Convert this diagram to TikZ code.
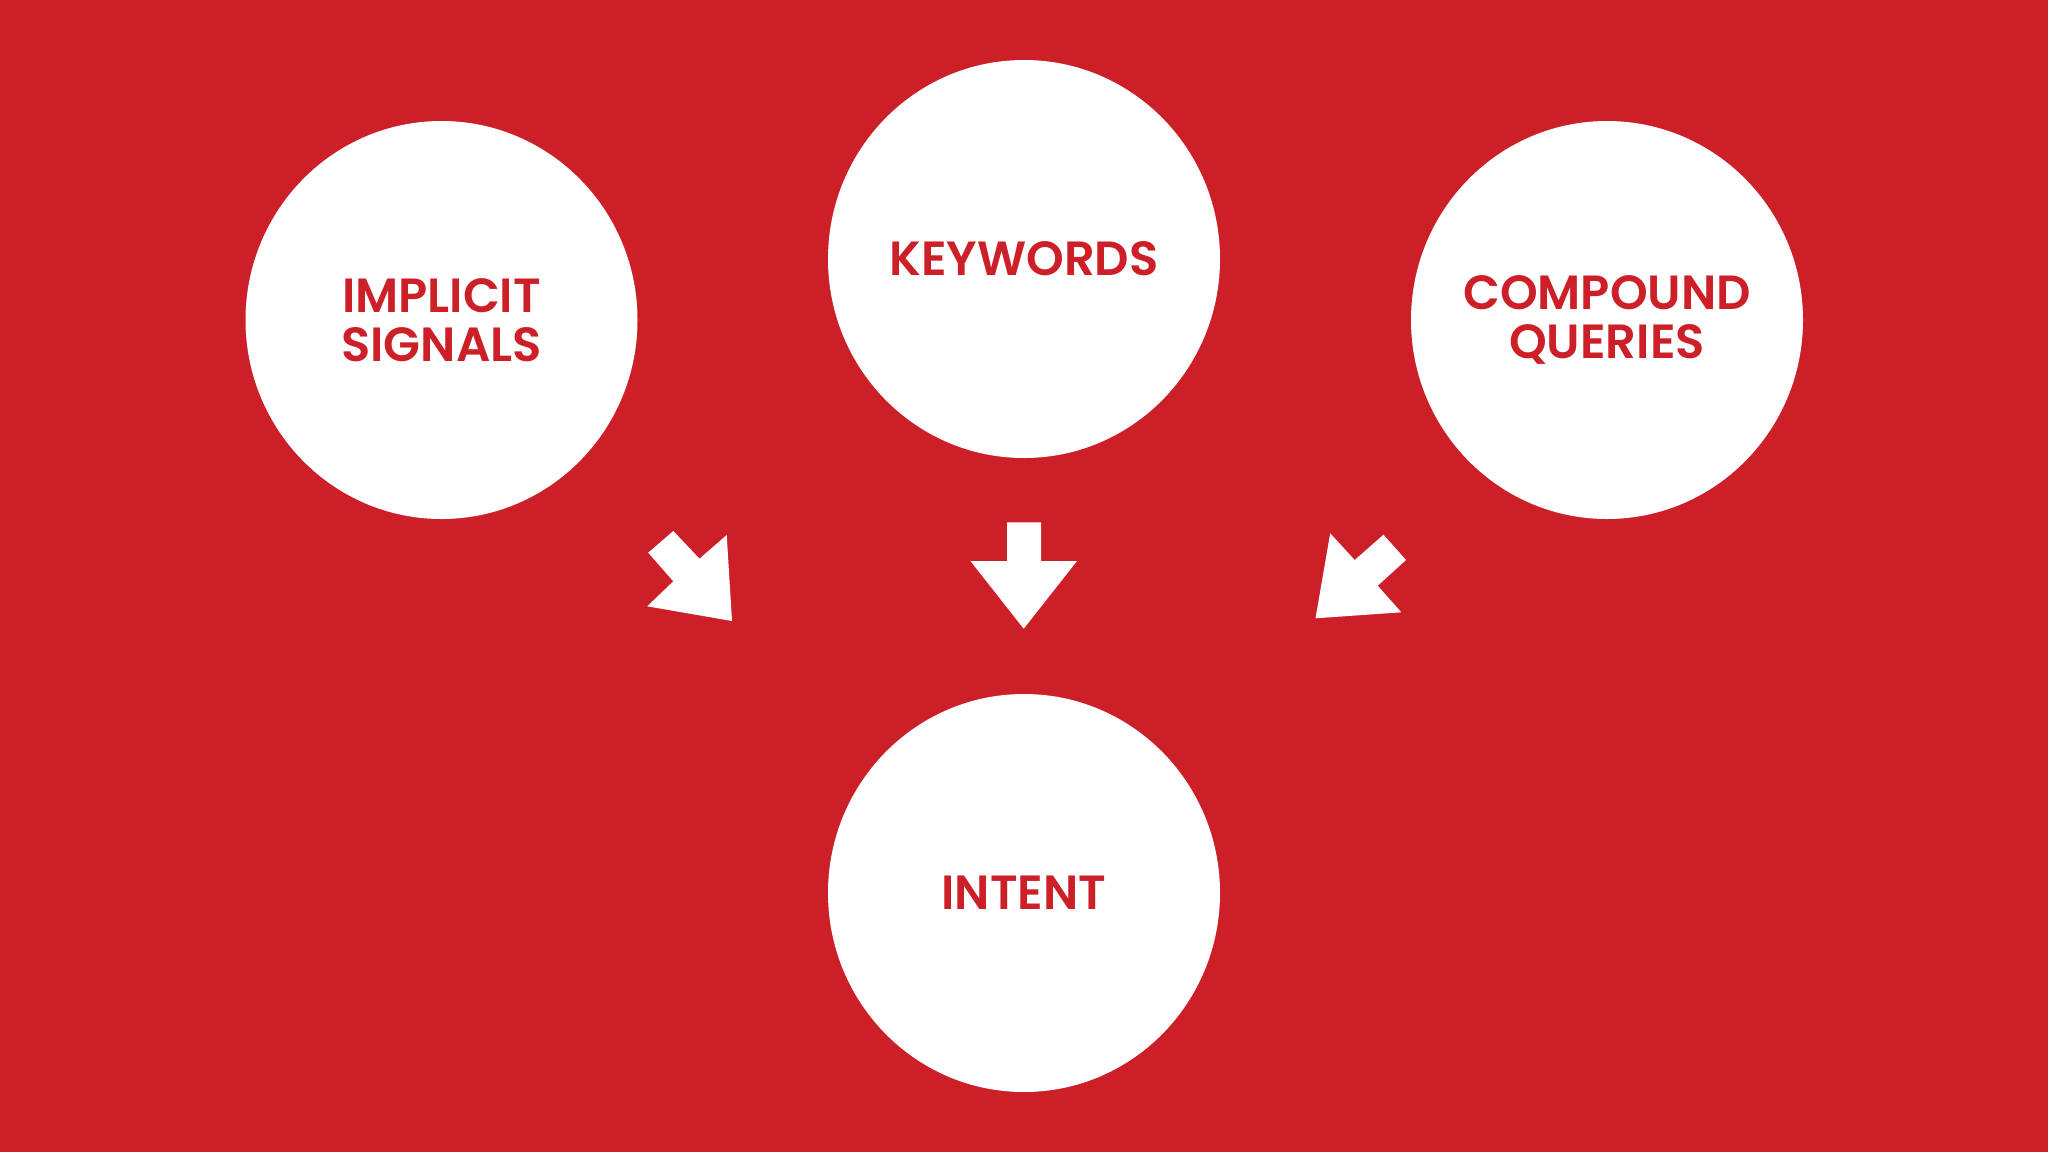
\documentclass[tikz,border=0pt]{standalone}
\usepackage{fontspec}
\setmainfont{Poppins}[BoldFont={Poppins SemiBold}]
\usetikzlibrary{shapes.geometric}
\definecolor{brandred}{RGB}{205,31,40}
\tikzset{
	bubble/.style={ellipse, fill=white, minimum width=392pt, minimum height=398pt,
		inner sep=-40pt, align=center, text=brandred,
		font=\fontsize{48}{49}\selectfont\bfseries},
	blockarrow/.style={fill=white}
}

\begin{document}
\begin{tikzpicture}[x=1pt, y=-1pt]
	\fill [brandred] (0,0) rectangle (2048,1152);
	\useasboundingbox (0,0) rectangle (2048,1152);
	\node [bubble] (implicit) at (441.5,320) 
		{IMPLICIT\\SIGNALS};
	\node [bubble] (keywords) at (1024,259) 
		{KEYWORDS};
	\node [bubble] (compound) at (1607,320) 
		{COMPOUND\\QUERIES};
	\node [bubble] (intent) at (1024,893) 
		{INTENT};
	\fill [blockarrow] (732,621) -- (647.2,606.3) -- (673.3,581.3) 
		-- (648.2,552.7) -- (673.3,531) -- (699.5,558.7) -- (726.7,535) -- cycle;
	\fill [blockarrow] (1007,522.3) -- (1041,522.3) -- (1041,561) 
		-- (1077,561) -- (1023.7,628.7) -- (970.4,561) -- (1007,561) -- cycle;
	\fill [blockarrow] (1315.5,618.3) -- (1401.3,612.3) -- (1377.7,585.7) 
		-- (1406,560) -- (1383.5,534.7) -- (1354.7,560) -- (1330.2,533.3) -- cycle;
\end{tikzpicture}
\end{document}
